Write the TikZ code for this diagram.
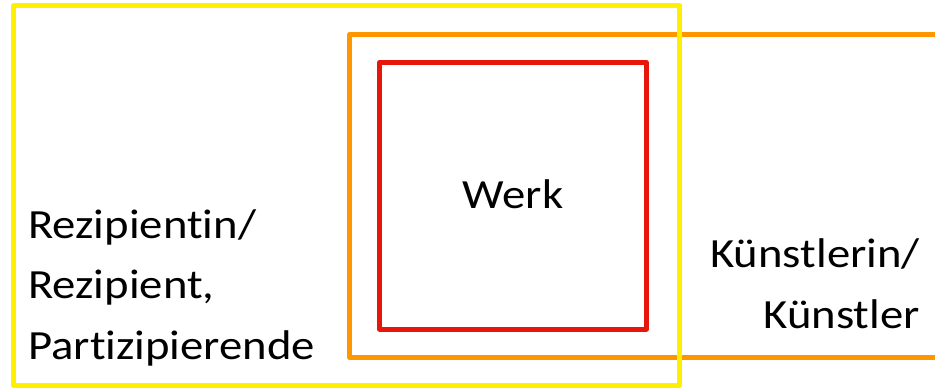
\documentclass[tikz,border=0pt]{standalone}
\usepackage{fontspec}
\setmainfont{Carlito}[FakeStretch=1.125, Ligatures={NoCommon}]
\definecolor{yellowC}{RGB}{255,240,0}
\definecolor{orangeC}{RGB}{255,150,0}
\definecolor{redC}{RGB}{230,22,10}
\begin{document}
\begin{tikzpicture}[x=1pt,y=-1pt,
  frame/.style={line width=5pt, line join=round},
  lbl/.style={font=\fontsize{41.5}{60.5}\selectfont, inner sep=0pt}]
\useasboundingbox (0,0) rectangle (935,389);
\clip (0,0) rectangle (935,389);
\draw[frame, draw=redC] (379.5,62.5) rectangle (646,329);
\draw[frame, draw=orangeC] (960,34.5) rectangle (349.5,357.5);
\draw[frame, draw=yellowC] (13.5,5.5) rectangle (679.5,385.5);
\node[lbl, anchor=base] (werk) at (513,208) {Werk};
\node[lbl, anchor=base west, align=left] (rez) at (28,359) {Rezipientin/\\Rezipient,\\Partizipierende};
\node[lbl, anchor=base east, align=right] (kuen) at (920,328) {Künstlerin/\\Künstler};
\end{tikzpicture}
\end{document}
